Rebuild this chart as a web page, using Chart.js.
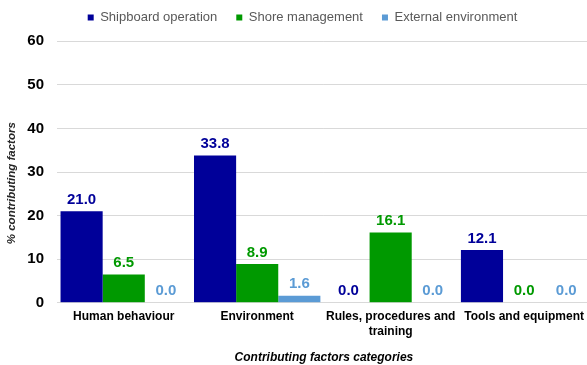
<!DOCTYPE html>
<html>
<head>
<meta charset="utf-8">
<script src="https://cdn.jsdelivr.net/npm/chart.js@4/dist/chart.umd.min.js"></script>
<style>
  html, body { margin: 0; padding: 0; background: #fff; overflow: hidden; }
  #wrap { width: 591px; height: 365px; }
</style>
</head>
<body>
<div id="wrap"><canvas id="barChart"></canvas></div>
<script>
// categories and series
const categories = ['Human behaviour', 'Environment', ['Rules, procedures and', 'training'], 'Tools and equipment'];
const seriesNames = ['Shipboard operation', 'Shore management', 'External environment'];
const shipboard = [21.0, 33.8, 0.0, 12.1];
const shore = [6.5, 8.9, 16.1, 0.0];
const external = [0.0, 1.6, 0.0, 0.0];
const yTicks = [0, 10, 20, 30, 40, 50, 60];

const colors = ['#000099', '#009900', '#5b9bd5'];
const FONT = 'Liberation Sans, Arial, sans-serif';

// value labels above each bar, coloured like the series
const valueLabels = {
  id: 'valueLabels',
  afterDatasetsDraw(chart) {
    const { ctx } = chart;
    ctx.save();
    ctx.font = 'bold 15px ' + FONT;
    ctx.textAlign = 'center';
    ctx.textBaseline = 'bottom';
    chart.data.datasets.forEach((ds, i) => {
      chart.getDatasetMeta(i).data.forEach((bar, j) => {
        ctx.fillStyle = colors[i];
        ctx.fillText(ds.data[j].toFixed(1), bar.x, bar.y - 4);
      });
    });
    ctx.restore();
  }
};

// nudge the legend row slightly to the right, as in the original
const legendShift = {
  id: 'legendShift',
  afterLayout(chart) {
    chart.legend.left += 14;
  }
};

new Chart(document.getElementById('barChart').getContext('2d'), {
  type: 'bar',
  data: {
    labels: categories,
    datasets: [
      { label: seriesNames[0], data: shipboard, backgroundColor: colors[0] },
      { label: seriesNames[1], data: shore, backgroundColor: colors[1] },
      { label: seriesNames[2], data: external, backgroundColor: colors[2] }
    ]
  },
  options: {
    responsive: true,
    maintainAspectRatio: false,
    animation: false,
    layout: { padding: { top: -8, left: 0, right: 0, bottom: 0 } },
    datasets: { bar: { categoryPercentage: 0.947, barPercentage: 1.0 } },
    scales: {
      x: {
        grid: { display: false, drawTicks: false },
        border: { color: '#d9d9d9', width: 1 },
        ticks: {
          color: '#000',
          font: { family: FONT, size: 12, weight: 'bold' },
          maxRotation: 0,
          autoSkip: false,
          padding: 7
        },
        title: {
          display: true,
          text: 'Contributing factors categories',
          color: '#000',
          font: { family: FONT, size: 12, weight: 'bold', style: 'italic' },
          padding: { top: 5, bottom: 0 }
        }
      },
      y: {
        min: 0,
        max: 60,
        afterBuildTicks: axis => { axis.ticks = yTicks.map(v => ({ value: v })); },
        afterFit: axis => { axis.width = 57; },
        grid: { color: '#d9d9d9', drawTicks: false },
        border: { display: false },
        ticks: {
          color: '#000',
          font: { family: FONT, size: 15, weight: 'bold' },
          padding: 13
        },
        title: {
          display: true,
          // trailing spaces push the text a little lower, as in the original
          text: '% contributing factors       ',
          color: '#262626',
          font: { family: FONT, size: 11.5, weight: 'bold', style: 'italic' },
          padding: { top: 5, bottom: 0 }
        }
      }
    },
    plugins: {
      legend: {
        position: 'top',
        labels: {
          boxWidth: 6,
          boxHeight: 6,
          padding: 19,
          color: '#595959',
          font: { family: FONT, size: 13 }
        }
      },
      // empty block used as a gap between legend and plot
      subtitle: {
        display: true,
        text: '',
        position: 'top',
        weight: 500,
        font: { size: 1 },
        padding: { top: 0, bottom: 6 }
      },
      tooltip: { enabled: false }
    }
  },
  plugins: [valueLabels, legendShift]
});
</script>
</body>
</html>
